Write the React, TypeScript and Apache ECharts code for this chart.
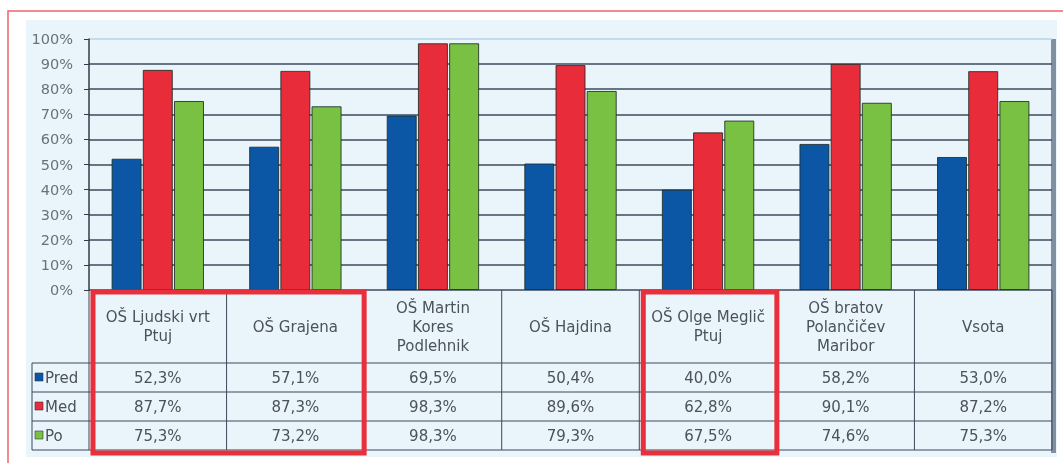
import React, { useEffect, useRef } from "react";
import * as echarts from "echarts";

const categories = [
  "OŠ Ljudski vrt Ptuj",
  "OŠ Grajena",
  "OŠ Martin Kores Podlehnik",
  "OŠ Hajdina",
  "OŠ Olge Meglič Ptuj",
  "OŠ bratov Polančičev Maribor",
  "Vsota",
];
const headerLines = [
  ["OŠ Ljudski vrt", "Ptuj"],
  ["OŠ Grajena"],
  ["OŠ Martin", "Kores", "Podlehnik"],
  ["OŠ Hajdina"],
  ["OŠ Olge Meglič", "Ptuj"],
  ["OŠ bratov", "Polančičev", "Maribor"],
  ["Vsota"],
];
const seriesNames = ["Pred", "Med", "Po"];
const pred = [52.3, 57.1, 69.5, 50.4, 40.0, 58.2, 53.0];
const med = [87.7, 87.3, 98.3, 89.6, 62.8, 90.1, 87.2];
const po = [75.3, 73.2, 98.3, 79.3, 67.5, 74.6, 75.3];
const colors = ["#0b57a6", "#e82c3a", "#79c142"];
const highlighted = [[0, 1], [4, 4]];

const fmt = (v: number) => v.toFixed(1).replace(".", ",") + "%";

export default function App() {
  const ref = useRef<HTMLDivElement>(null);
  useEffect(() => {
    if (!ref.current) return;
    const chart = echarts.init(ref.current, null, { renderer: "svg" });
    const dark = "#3b4b5c";
    const splitColors = [dark, dark, dark, dark, dark, dark, dark, dark, dark, dark, "#b9d3e6"];
    const allSeries = [pred, med, po];
    const font = "DejaVu Sans, Verdana, sans-serif";
    chart.setOption({
      animation: false,
      grid: { left: 89, right: 11, top: 39, height: 251 },
      xAxis: {
        type: "category",
        data: categories,
        axisLine: { show: false },
        axisTick: { show: false },
        axisLabel: { show: false },
      },
      yAxis: {
        type: "value",
        min: 0,
        max: 100,
        interval: 10,
        axisLine: { show: true, lineStyle: { color: "#2e3b48", width: 1.5 } },
        axisTick: { show: true, length: 5, lineStyle: { color: "#2e3b48" } },
        axisLabel: {
          formatter: "{value}%",
          color: "#67727e",
          fontFamily: font,
          fontSize: 14.5,
          margin: 16,
        },
        splitLine: { show: true, lineStyle: { color: splitColors, width: 1.6 } },
      },
      series: allSeries.map((d, i) => ({
        name: seriesNames[i],
        type: "bar",
        data: d,
        barWidth: 30,
        barGap: "4%",
        itemStyle: { color: colors[i], borderColor: "rgba(30,45,40,0.85)", borderWidth: 1 },
      })),
    });

    const c0 = chart.convertToPixel({ xAxisIndex: 0 }, 0) as number;
    const c1 = chart.convertToPixel({ xAxisIndex: 0 }, 1) as number;
    const cw = c1 - c0;
    const centers = categories.map((_, i) => chart.convertToPixel({ xAxisIndex: 0 }, i) as number);
    const left = c0 - cw / 2;
    const right = centers[centers.length - 1] + cw / 2;
    const yTop = chart.convertToPixel({ yAxisIndex: 0 }, 0) as number;
    const headerBottom = yTop + 73;
    const rowH = 29;
    const tableBottom = headerBottom + rowH * 3;
    const textColor = "#4a525b";
    const lineColor = "#3a4a5a";

    const g: any[] = [];
    g.push({ type: "rect", z: -10, shape: { x: 8, y: 11, width: 1070, height: 470 }, style: { fill: "#ffffff", stroke: "#f0646c", lineWidth: 1.5 } });
    g.push({ type: "rect", z: -9, shape: { x: 26, y: 20, width: 1031, height: 437 }, style: { fill: "#eaf4fb" } });
    g.push({ type: "rect", z: -8, shape: { x: right - 1, y: 39, width: 5, height: tableBottom + 3 - 39 }, style: { fill: "#7f90a1" } });

    [headerBottom, headerBottom + rowH, headerBottom + rowH * 2, tableBottom].forEach((y) => {
      g.push({ type: "line", shape: { x1: 32, y1: y, x2: right, y2: y }, style: { stroke: lineColor, lineWidth: 1 } });
    });
    g.push({ type: "line", shape: { x1: 32, y1: headerBottom, x2: 32, y2: tableBottom }, style: { stroke: lineColor, lineWidth: 1 } });
    for (let k = 0; k <= categories.length; k++) {
      const x = left + k * cw;
      g.push({ type: "line", shape: { x1: x, y1: yTop, x2: x, y2: tableBottom }, style: { stroke: lineColor, lineWidth: 1 } });
    }
    const headerMid = (yTop + headerBottom) / 2;
    headerLines.forEach((lines, i) => {
      const lh = 19;
      lines.forEach((t, j) => {
        g.push({
          type: "text",
          x: centers[i],
          y: headerMid + (j - (lines.length - 1) / 2) * lh,
          style: { text: t, fill: textColor, font: `15px ${font}`, textAlign: "center", textVerticalAlign: "middle" },
        });
      });
    });
    allSeries.forEach((d, r) => {
      const yc = headerBottom + rowH * r + rowH / 2;
      g.push({ type: "rect", shape: { x: 35, y: yc - 4.5, width: 8, height: 8 }, style: { fill: colors[r], stroke: "#334", lineWidth: 0.6 } });
      g.push({ type: "text", x: 45, y: yc, style: { text: seriesNames[r], fill: textColor, font: `15px ${font}`, textAlign: "left", textVerticalAlign: "middle" } });
      d.forEach((v, i) => {
        g.push({ type: "text", x: centers[i], y: yc, style: { text: fmt(v), fill: textColor, font: `15px ${font}`, textAlign: "center", textVerticalAlign: "middle" } });
      });
    });
    highlighted.forEach(([a, b]) => {
      const x1 = left + a * cw + 4;
      const x2 = left + (b + 1) * cw;
      g.push({ type: "rect", z: 10, shape: { x: x1, y: yTop + 2, width: x2 - x1, height: tableBottom + 3 - (yTop + 2) }, style: { fill: "none", stroke: "#e8303c", lineWidth: 5 } });
    });

    chart.setOption({ graphic: g });
    return () => chart.dispose();
  }, []);
  return <div ref={ref} style={{ position: "fixed", left: 0, top: 0, width: 1063, height: 463 }} />;
}
